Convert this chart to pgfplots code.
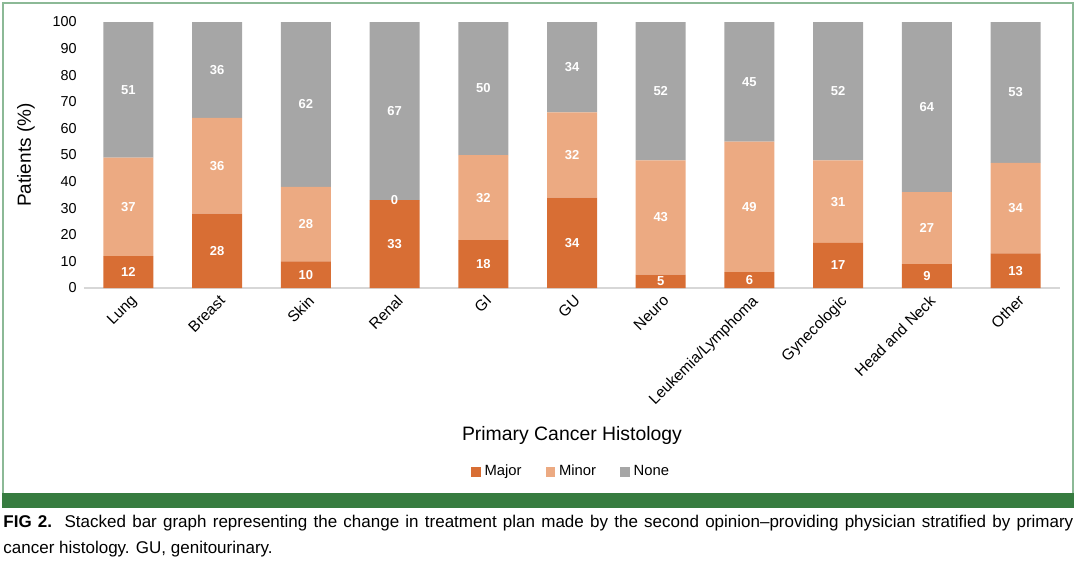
\documentclass[border=0pt]{standalone}
\usepackage{fontspec}
\setmainfont{Liberation Sans}
\usepackage{pgfplots}
\usepackage{pgfplotstable}
\pgfplotsset{compat=1.18}

\definecolor{majorc}{RGB}{216,110,52}
\definecolor{minorc}{RGB}{236,170,130}
\definecolor{nonec}{RGB}{166,166,166}
\definecolor{framegreen}{RGB}{140,185,150}
\definecolor{bandgreen}{RGB}{55,124,64}
\definecolor{axisgray}{RGB}{215,215,215}

\pgfplotstableread{
x major minor none
0 12 37 51
1 28 36 36
2 10 28 62
3 33 0 67
4 18 32 50
5 34 32 34
6 5 43 52
7 6 49 45
8 17 31 52
9 9 27 64
10 13 34 53
}\histdata

\pgfplotsset{
  histaxis/.style={
    at={(42pt,-144pt)}, anchor=south west,
    scale only axis, width=488pt, height=133pt,
    xmin=-0.5, xmax=10.5, ymin=0, ymax=100,
    enlargelimits=false,
  },
}

\begin{document}
\begin{tikzpicture}
\useasboundingbox (0,0) rectangle (538pt,-284pt);
\draw[framegreen, line width=0.8pt] (1.5pt,-1.5pt) rectangle (536.5pt,-247pt);
\fill[bandgreen] (1pt,-246.5pt) rectangle (537pt,-254pt);

\begin{axis}[
  histaxis,
  ybar stacked, bar width=25pt,
  axis x line*=bottom, axis y line*=left,
  y axis line style={draw=none},
  x axis line style={draw=axisgray, line width=0.7pt},
  major tick length=0pt,
  xtick={0,...,10},
  xticklabels={Lung,Breast,Skin,Renal,GI,GU,Neuro,Leukemia/Lymphoma,Gynecologic,Head and Neck,Other},
  ytick={0,10,...,100},
  /pgf/number format/assume math mode=true,
  tick label style={font=\fontsize{7.2}{8}\selectfont},
  yticklabel style={anchor=east, inner sep=0pt, xshift=-3.5pt},
  xticklabel style={rotate=45, anchor=north east, inner sep=0pt, xshift=-1.5pt, yshift=-2.5pt, font=\fontsize{7.7}{8}\selectfont},
  xlabel={Primary Cancer Histology},
  ylabel={Patients (\%)},
  xlabel style={at={(axis description cs:0.5,-0.556)}, anchor=center, font=\fontsize{9.7}{11}\selectfont},
  ylabel style={at={(axis description cs:-0.0594,0.5)}, anchor=center, font=\fontsize{9.5}{11}\selectfont},
  legend columns=-1,
  legend style={at={(axis description cs:0.5,-0.692)}, anchor=center, draw=none,
    font=\fontsize{7.4}{8}\selectfont,
    /tikz/every even column/.append style={column sep=10pt}},
  legend image code/.code={\path[#1,draw=none] (0pt,-2.4pt) rectangle (4.8pt,2.4pt);},
]
\addplot[fill=majorc, draw=none] table[x=x, y=major] {\histdata};
\addplot[fill=minorc, draw=none] table[x=x, y=minor] {\histdata};
\addplot[fill=nonec, draw=none] table[x=x, y=none] {\histdata};
\legend{Major,Minor,None}
\end{axis}

% value labels, centred in each segment
\begin{axis}[
  histaxis, hide axis,
  /pgf/number format/assume math mode=true,
  nodes near coords,
  point meta=explicit,
  every node near coord/.append style={anchor=center, inner sep=0pt,
    text=white, font=\bfseries\fontsize{6.5}{7}\selectfont},
]
\addplot[only marks, mark=none] table[x=x, y expr=\thisrow{major}/2, meta=major] {\histdata};
\addplot[only marks, mark=none] table[x=x, y expr=\thisrow{major}+\thisrow{minor}/2, meta=minor] {\histdata};
\addplot[only marks, mark=none] table[x=x, y expr=\thisrow{major}+\thisrow{minor}+\thisrow{none}/2, meta=none] {\histdata};
\end{axis}

\node[anchor=north west, inner sep=0pt, text width=535pt, align=justify,
  font=\fontsize{8.5}{13}\selectfont] at (1.5pt,-257.5pt)
  {\textbf{FIG 2.}\ \ Stacked bar graph representing the change in treatment plan made by the second opinion–providing physician stratified by primary\linebreak cancer histology. GU, genitourinary.};
\end{tikzpicture}
\end{document}
